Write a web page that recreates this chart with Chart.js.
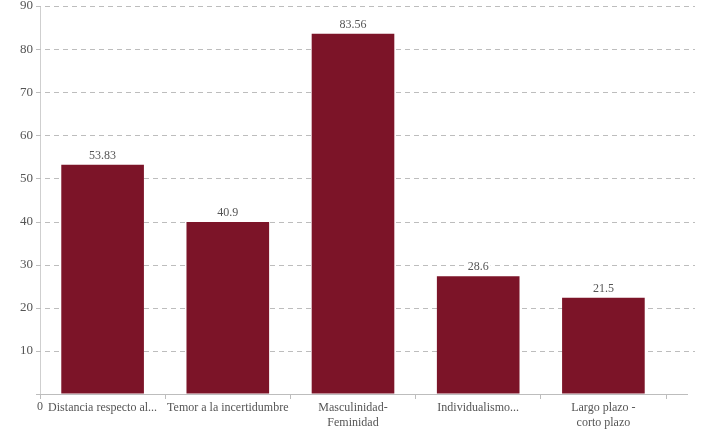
<!DOCTYPE html>
<html>
<head>
<meta charset="utf-8">
<script src="https://cdn.jsdelivr.net/npm/chart.js@4"></script>
<style>
  html, body { margin: 0; padding: 0; background: #fff; }
  #wrap { width: 709px; height: 434px; position: relative; }
</style>
</head>
<body>
<div id="wrap"><canvas id="c"></canvas></div>
<script>
const categories = [
  'Distancia respecto al...',
  'Temor a la incertidumbre',
  ['Masculinidad-', 'Feminidad'],
  'Individualismo...',
  ['Largo plazo -', 'corto plazo']
];
const barValues = [53.2, 39.9, 83.56, 27.3, 22.3];
const valueLabels = ['53.83', '40.9', '83.56', '28.6', '21.5'];
const yMin = 0, yMax = 90, yStep = 10;

const FONT = '"Liberation Serif", "DejaVu Serif", serif';
const GRID = '#bdbdbd';
const DASH = [5, 4];

const extras = {
  id: 'extras',
  beforeDatasetsDraw(chart) {
    const { ctx, chartArea, scales } = chart;
    const y = scales.y;
    ctx.save();
    ctx.strokeStyle = GRID;
    ctx.lineWidth = 1;
    ctx.setLineDash(DASH);
    y.ticks.forEach(tk => {
      if (tk.value === 0) return;
      const py = Math.round(y.getPixelForValue(tk.value)) + 0.5;
      ctx.beginPath();
      ctx.moveTo(chartArea.left - 4, py);
      ctx.lineTo(695, py);
      ctx.stroke();
    });
    ctx.setLineDash([]);
    const p0 = Math.round(y.getPixelForValue(0)) + 0.5;
    ctx.beginPath();
    ctx.moveTo(chartArea.left - 4, p0);
    ctx.lineTo(688, p0);
    ctx.stroke();
    ctx.restore();
  },
  afterDatasetsDraw(chart) {
    const { ctx, chartArea, scales } = chart;
    const x = scales.x;
    ctx.save();
    const meta = chart.getDatasetMeta(0);
    ctx.font = '12px ' + FONT;
    ctx.textAlign = 'center';
    ctx.textBaseline = 'middle';
    meta.data.forEach((bar, i) => {
      const t = valueLabels[i];
      const w = ctx.measureText(t).width + 4;
      const cy = bar.y - 9;
      ctx.fillStyle = '#fff';
      ctx.fillRect(bar.x - w / 2, cy - 6, w, 12);
      ctx.fillStyle = '#555';
      ctx.fillText(t, bar.x, cy);
    });
    ctx.fillStyle = '#555';
    ctx.fillText(String(yMin), chartArea.left, x.top + 13);
    ctx.restore();
  }
};

new Chart(document.getElementById('c'), {
  type: 'bar',
  data: {
    labels: categories,
    datasets: [{
      data: barValues,
      backgroundColor: '#7c1428',
      borderWidth: 0,
      barPercentage: 0.66,
      categoryPercentage: 1
    }]
  },
  options: {
    responsive: true,
    maintainAspectRatio: false,
    animation: false,
    layout: { padding: { top: 6, right: 43, bottom: 0, left: 0 } },
    plugins: { legend: { display: false }, tooltip: { enabled: false } },
    scales: {
      x: {
        grid: { display: true, drawOnChartArea: false, drawTicks: true, tickLength: 5, color: GRID, offset: true },
        border: { display: true, color: GRID, width: 1 },
        ticks: { color: '#555', font: { family: FONT, size: 12 }, padding: 2, maxRotation: 0, autoSkip: false },
        afterFit(s) { s.height = 40; s.paddingLeft = 0; s.paddingRight = 0; }
      },
      y: {
        min: yMin, max: yMax,
        grid: { display: true, drawOnChartArea: false, drawTicks: false },
        border: { display: true, color: '#cfcfcf', width: 1 },
        ticks: {
          stepSize: yStep, color: '#555', padding: 7,
          font: { family: FONT, size: 13 },
          callback: v => v === 0 ? '' : String(v)
        },
        afterFit(s) { s.width = 40; s.paddingTop = 0; s.paddingBottom = 0; }
      }
    }
  },
  plugins: [extras]
});
</script>
</body>
</html>
